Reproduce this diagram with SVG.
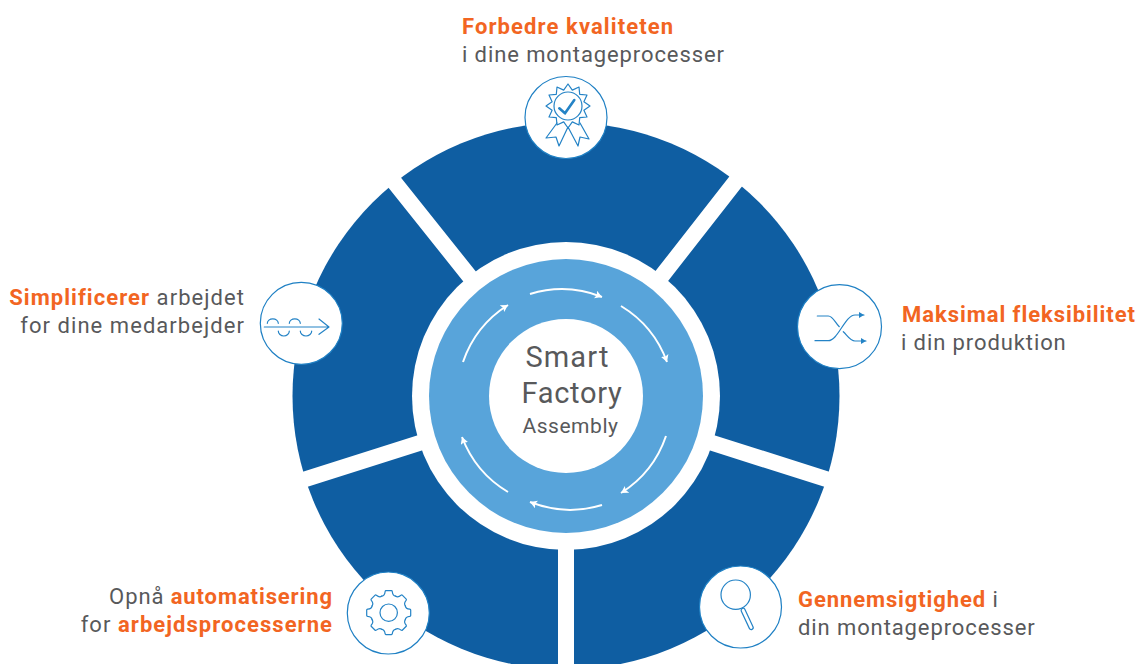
<svg xmlns="http://www.w3.org/2000/svg" xmlns:xlink="http://www.w3.org/1999/xlink" width="1143" height="664" viewBox="0 0 1143 664">
<style>
text{font-family:"Roboto","Liberation Sans",sans-serif;fill:#58595b;font-size:22px;letter-spacing:.9px}
.o{fill:#f26522;font-weight:700}
.e{text-anchor:end}
.c{text-anchor:middle}
.gap{stroke:#fff;stroke-width:16;fill:none}
.disc{fill:#fff;stroke:#1f80c4;stroke-width:1.2}
.ic{fill:none;stroke:#2483c6;stroke-width:1.2;stroke-linecap:round;stroke-linejoin:round}
.flow{fill:none;stroke:#fff;stroke-width:2;marker-end:url(#ah)}
</style>
<defs>
<marker id="ah" markerUnits="userSpaceOnUse" markerWidth="10" markerHeight="10" refX="7" refY="4" orient="auto"><path d="M0 0L7 4L0 8L1.500 4Z" fill="#fff"/></marker>
<marker id="ab" markerUnits="userSpaceOnUse" markerWidth="8" markerHeight="8" refX="5" refY="3" orient="auto"><path d="M0 0L5 3L0 6Z" fill="#2483c6"/></marker>
</defs>
<rect width="1143" height="664" fill="#fff"/>
<g id="wheel">
<circle cx="566" cy="396" r="273.500" fill="#0f5ea2"/>
<path class="gap" d="M383 168L470 277M747 167L661 277M848 486L700 439M284 486L432 439M566 500V664"/>
<circle cx="566" cy="396" r="154" fill="#fff"/>
<circle cx="566" cy="396" r="137" fill="#58a4da"/>
</g>
<g id="connectors">
<path class="flow" d="M530 294A109 109 0 0 1 602 297"/>
<path class="flow" d="M621 306A109 109 0 0 1 667 362"/>
<path class="flow" d="M666 436A109 109 0 0 1 621 493"/>
<path class="flow" d="M602 505A109 109 0 0 1 530 502"/>
<path class="flow" d="M508 492A109 109 0 0 1 462 437"/>
<path class="flow" d="M463 362A109 109 0 0 1 508 305"/>
</g>
<g id="center">
<circle cx="566" cy="396" r="77" fill="#fff"/>
<text class="c" x="567.500" y="367" style="font-size:29px;letter-spacing:1.1px">Smart</text>
<text class="c" x="572" y="403" style="font-size:29px;letter-spacing:.7px">Factory</text>
<text class="c" x="570.500" y="433" style="font-size:21px;letter-spacing:.55px">Assembly</text>
</g>
<g id="node-quality">
<circle class="disc" cx="566" cy="117.500" r="41"/>
<path class="ic" d="M568 84L572.300 90.100L579 87L579.700 94.300L587 95L583.900 101.700L590 106L583.900 110.300L587 117L579.700 117.700L579 125L572.300 121.900L568 128L563.700 121.900L557 125L556.300 117.700L549 117L552.100 110.300L546 106L552.100 101.700L549 95L556.300 94.300L557 87L563.700 90.100Z"/>
<circle class="ic" cx="568" cy="106" r="14"/>
<path class="ic" style="stroke-width:2.600" d="M559.300 108.300L565 113.300L574.300 100"/>
<path class="ic" d="M557 123L546 138L556 137L559 146L568 127L578 146L580 137L589 139L580 123"/>
<text class="o" x="462" y="33.500" style="letter-spacing:1.1px">Forbedre kvaliteten</text>
<text x="462" y="61.500">i dine montageprocesser</text>
</g>
<g id="node-flexibility">
<circle class="disc" cx="839.500" cy="326.700" r="42"/>
<path class="ic" d="M817.300 316H828.300C833 316 835 322.500 839.300 326.700M843.300 331.700C847 335 850 341 855 341H866" marker-end="url(#ab)"/>
<path class="ic" d="M815 340.700H828.300C838 340.700 845 315 855 315H864" marker-end="url(#ab)"/>
<text class="o" x="902" y="321.500" style="letter-spacing:.95px">Maksimal fleksibilitet</text>
<text x="901" y="349.500">i din produktion</text>
</g>
<g id="node-simplify">
<circle class="disc" cx="301.300" cy="323.300" r="41"/>
<path class="ic" d="M264.300 327H329M319 319L329 327L319 334.300"/>
<path class="ic" d="M267.300 323.300A5.500 4.500 0 0 1 278.300 323.300M278.300 331A5.500 5 0 0 0 289.300 331M289.300 323.300A5.500 4.500 0 0 1 300.300 323.300M300.300 331A5.700 5 0 0 0 311.700 331"/>
<text class="e" x="245" y="304.500" style="letter-spacing:1.05px"><tspan class="o">Simplificerer</tspan> arbejdet</text>
<text class="e" x="245" y="332.500" style="letter-spacing:1.05px">for dine medarbejder</text>
</g>
<g id="node-automation">
<circle class="disc" cx="388.300" cy="613" r="41"/>
<g class="ic" transform="translate(388.700 612.700)">
<circle r="8.700"/>
<path id="t" d="M-6.900-16.600Q-4-17-3.600-21Q-3.400-22-2.800-22L2.800-22Q3.400-22 3.600-21Q4-17 6.900-16.600"/>
<use xlink:href="#t" href="#t" transform="rotate(45)"/>
<use xlink:href="#t" href="#t" transform="rotate(90)"/>
<use xlink:href="#t" href="#t" transform="rotate(135)"/>
<use xlink:href="#t" href="#t" transform="rotate(180)"/>
<use xlink:href="#t" href="#t" transform="rotate(225)"/>
<use xlink:href="#t" href="#t" transform="rotate(270)"/>
<use xlink:href="#t" href="#t" transform="rotate(315)"/>
</g>
<text class="e" x="333" y="603.500">Opnå <tspan class="o">automatisering</tspan></text>
<text class="e" x="333" y="631.500" style="letter-spacing:1.05px">for <tspan class="o">arbejdsprocesserne</tspan></text>
</g>
<g id="node-transparency">
<circle class="disc" cx="740.500" cy="607" r="41"/>
<circle class="ic" cx="735.700" cy="594.700" r="14.700"/>
<rect class="ic" x="-2" y="0" width="4" height="23" rx="2" transform="translate(742.300 608.500) rotate(-25)"/>
<text x="798" y="606.500"><tspan class="o">Gennemsigtighed</tspan> i</text>
<text x="798" y="634.500">din montageprocesser</text>
</g>
</svg>
